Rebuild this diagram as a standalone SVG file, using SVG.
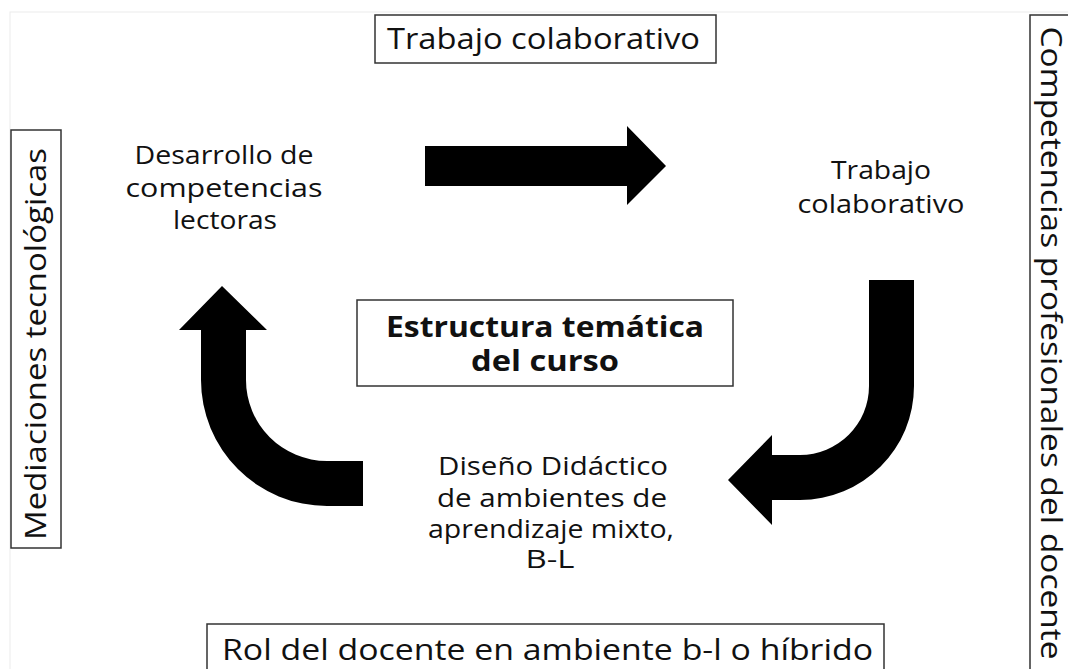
<svg xmlns="http://www.w3.org/2000/svg" width="1068" height="669" viewBox="0 0 1068 669">
<style>
.box{fill:#fff;stroke:#333;stroke-width:1.5}
.t{font-family:"Open Sans","DejaVu Sans","Liberation Sans",sans-serif;fill:#111;text-anchor:middle}
.n{font-size:25px}
.f{font-size:29px}
.b{font-size:28px;font-weight:bold}
.arr{fill:#000}
</style>
<rect width="1068" height="669" fill="#fff"/>
<rect x="10" y="12" width="1100" height="700" fill="none" stroke="#ececec" stroke-width="1"/>
<g id="frame-top">
<rect class="box" x="375" y="15" width="341" height="48"/>
<text class="t f" x="543.5" y="49" textLength="313" lengthAdjust="spacingAndGlyphs">Trabajo colaborativo</text>
</g>
<g id="frame-left">
<rect class="box" x="11" y="130" width="50" height="418"/>
<text class="t f" transform="translate(46,344) rotate(-90)" textLength="392" lengthAdjust="spacingAndGlyphs">Mediaciones tecnológicas</text>
</g>
<g id="frame-right">
<rect class="box" x="1030" y="15" width="60" height="670"/>
<text class="t f" transform="translate(1041,343) rotate(90)" textLength="633" lengthAdjust="spacingAndGlyphs">Competencias profesionales del docente</text>
</g>
<g id="frame-bottom">
<rect class="box" x="207" y="624" width="677" height="60"/>
<text class="t f" x="547.5" y="660" textLength="651" lengthAdjust="spacingAndGlyphs">Rol del docente en ambiente b-l o híbrido</text>
</g>
<g id="center">
<rect class="box" x="357" y="300" width="376" height="86"/>
<text class="t b" x="545" y="337" textLength="318" lengthAdjust="spacingAndGlyphs">Estructura temática</text>
<text class="t b" x="545" y="371" textLength="148" lengthAdjust="spacingAndGlyphs">del curso</text>
</g>
<g id="node-lectoras">
<text class="t n" x="224" y="164" textLength="179" lengthAdjust="spacingAndGlyphs">Desarrollo de</text>
<text class="t n" x="224" y="197" textLength="197" lengthAdjust="spacingAndGlyphs">competencias</text>
<text class="t n" x="225" y="229" textLength="104" lengthAdjust="spacingAndGlyphs">lectoras</text>
</g>
<g id="node-trabajo">
<text class="t n" x="881" y="179" textLength="100" lengthAdjust="spacingAndGlyphs">Trabajo</text>
<text class="t n" x="881" y="213" textLength="167" lengthAdjust="spacingAndGlyphs">colaborativo</text>
</g>
<g id="node-diseno">
<text class="t n" x="553" y="475" textLength="230" lengthAdjust="spacingAndGlyphs">Diseño Didáctico</text>
<text class="t n" x="552" y="507" textLength="230" lengthAdjust="spacingAndGlyphs">de ambientes de</text>
<text class="t n" x="551" y="538" textLength="246" lengthAdjust="spacingAndGlyphs">aprendizaje mixto,</text>
<text class="t n" x="550" y="568" textLength="49" lengthAdjust="spacingAndGlyphs">B-L</text>
</g>
<g id="connectors">
<polygon class="arr" points="425,146 627,146 627,126 666,166 627,205 627,186 425,186"/>
<path class="arr" d="M869,280 L914,280 L914,386 A114,114 0 0 1 800,500 L772,500 L772,525 L728,480 L772,435 L772,455 L800,455 A69,69 0 0 0 869,386 Z"/>
<path class="arr" d="M222,286 L267,330 L246,330 L246,380 A81,81 0 0 0 327,461 L363,461 L363,506 L327,506 A126,126 0 0 1 201,380 L201,330 L179,330 Z"/>
</g>
</svg>
